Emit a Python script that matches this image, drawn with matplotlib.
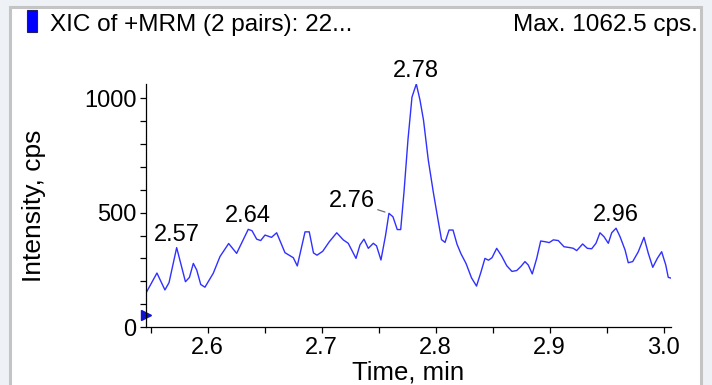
import matplotlib
matplotlib.use('Agg')
import matplotlib.pyplot as plt
from matplotlib.patches import Rectangle
from matplotlib.ticker import MultipleLocator

plt.rcParams['font.family'] = ['Liberation Sans', 'DejaVu Sans']

# XIC trace: retention time (min) and intensity (cps)
time_min = [2.5465, 2.5555, 2.5625, 2.5661, 2.5728, 2.5805, 2.5840, 2.5874, 2.5904, 2.5939,
            2.5976, 2.6049, 2.6108, 2.6184, 2.6254, 2.6356, 2.6389, 2.6430, 2.6465, 2.6503,
            2.6560, 2.6605, 2.6678, 2.6751, 2.6786, 2.6854, 2.6891, 2.6928, 2.6959, 2.7009,
            2.7067, 2.7132, 2.7189, 2.7233, 2.7301, 2.7336, 2.7371, 2.7409, 2.7453, 2.7481,
            2.7520, 2.7560, 2.7590, 2.7625, 2.7663, 2.7693, 2.7722, 2.7757, 2.7792, 2.7830,
            2.7862, 2.7893, 2.7935, 2.7979, 2.8020, 2.8051, 2.8082, 2.8117, 2.8152, 2.8187,
            2.8222, 2.8266, 2.8314, 2.8358, 2.8397, 2.8432, 2.8463, 2.8494, 2.8535, 2.8579,
            2.8623, 2.8669, 2.8711, 2.8748, 2.8783, 2.8812, 2.8847, 2.8886, 2.8921, 2.8959,
            2.8996, 2.9032, 2.9075, 2.9125, 2.9178, 2.9207, 2.9237, 2.9289, 2.9330, 2.9368,
            2.9406, 2.9441, 2.9476, 2.9514, 2.9544, 2.9582, 2.9617, 2.9661, 2.9689, 2.9728,
            2.9777, 2.9827, 2.9865, 2.9904, 2.9944, 2.9982, 3.0018, 3.0040, 3.0070]
intensity = [154, 236, 162, 194, 347, 198, 217, 278, 249, 186,
             174, 235, 308, 365, 322, 427, 421, 384, 378, 402,
             392, 412, 325, 303, 267, 416, 416, 324, 314, 331,
             373, 412, 381, 366, 300, 359, 384, 344, 366, 355,
             293, 400, 497, 482, 426, 426, 590, 820, 1005, 1062.5,
             993, 905, 730, 590, 470, 382, 370, 424, 424, 362,
             320, 278, 215, 179, 240, 300, 292, 303, 344, 310,
             268, 243, 247, 265, 286, 271, 232, 300, 376, 373,
             369, 381, 378, 351, 347, 344, 334, 363, 344, 342,
             366, 412, 395, 366, 412, 432, 395, 337, 281, 286,
             329, 392, 322, 261, 300, 329, 271, 217, 213]

# labelled apexes
peak_labels = ['2.57', '2.64', '2.76', '2.78', '2.96']
peak_time = [2.5728, 2.6356, 2.7590, 2.7830, 2.9582]
peak_int = [347, 427, 497, 1062.5, 432]

title_left = 'XIC of +MRM (2 pairs): 22...'
title_right = 'Max. 1062.5 cps.'

W, H = 712, 385
FS = 17

fig = plt.figure(figsize=(W / 100, H / 100), dpi=100)
fig.patch.set_facecolor('#eef1f6')

# white panel with grey border, kept behind the axes
panel = Rectangle((10 / W, -0.05), (701 - 10) / W, (H - 7) / H + 0.05,
                  transform=fig.transFigure, facecolor='white',
                  edgecolor='#c4c4c4', linewidth=2.2, zorder=-10)
fig.add_artist(panel)
fig.add_artist(Rectangle((27 / W, (H - 32) / H), 10 / W, 22 / H,
                         transform=fig.transFigure, facecolor='#0000ff',
                         edgecolor='#202060', linewidth=0.8, zorder=1))
fig.text(50 / W, (H - 31) / H, title_left, fontsize=17.5, ha='left', va='baseline')
fig.text(698 / W, (H - 31) / H, title_right, fontsize=17.5, ha='right', va='baseline')

ax = fig.add_axes([146 / W, (H - 327) / H, 525 / W, (327 - 84) / H])
ax.set_zorder(2)
ax.set_facecolor('none')
ax.plot(time_min, intensity, color='#3030ff', lw=1.0)
ax.set_xlim(2.5459, 3.0064)
ax.set_ylim(0, 1062.5)

for s in ['top', 'right']:
    ax.spines[s].set_visible(False)
for s in ['left', 'bottom']:
    ax.spines[s].set_linewidth(0.9)

ax.xaxis.set_major_locator(MultipleLocator(0.1))
ax.xaxis.set_minor_locator(MultipleLocator(0.05))
ax.yaxis.set_major_locator(MultipleLocator(500))
ax.yaxis.set_minor_locator(MultipleLocator(100))
ax.xaxis.set_major_formatter(plt.FuncFormatter(lambda v, p: f'{v:.1f}'))
ax.tick_params(which='major', length=4, width=0.9, labelsize=FS, pad=3)
ax.tick_params(which='minor', length=4, width=0.9)

ax.set_xlabel('Time, min', fontsize=18.5, labelpad=1)
ax.set_ylabel('Intensity, cps', fontsize=19, labelpad=27)

# baseline marker on the intensity axis
ax.plot([2.5459], [52], marker='>', color='#1010d0', markersize=7,
        clip_on=False, linestyle='none')

for lab, t, v in zip(peak_labels, peak_time, peak_int):
    if lab == '2.76':
        ax.annotate(lab, xy=(t, v), xytext=(-14, 6), textcoords='offset pixels',
                    ha='right', va='baseline', fontsize=FS,
                    arrowprops=dict(arrowstyle='-', color='#707070', lw=0.9,
                                    shrinkA=0, shrinkB=3))
    else:
        ax.annotate(lab, xy=(t, v), xytext=(0, 7), textcoords='offset pixels',
                    ha='center', va='baseline', fontsize=FS)

fig.savefig('out.png', dpi=100)
